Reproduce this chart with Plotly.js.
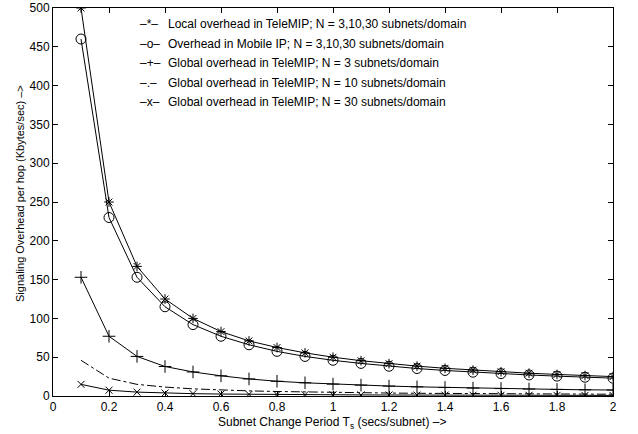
<!DOCTYPE html>
<html><head><meta charset="utf-8">
<script src="https://cdn.plot.ly/plotly-3.0.1.min.js"></script>
<style>html,body{margin:0;padding:0;background:#fff}#c{width:638px;height:434px}</style>
</head><body><div id="c"></div>
<script>
const period = [0.1,0.2,0.3,0.4,0.5,0.6,0.7,0.8,0.9,1.0,1.1,1.2,1.3,1.4,1.5,1.6,1.7,1.8,1.9,2.0];
const localTeleMIP = [500,250,167,125,100,83,71,62.5,55.6,50,45.5,41.7,38.5,35.7,33.3,31.3,29.4,27.8,26.3,25];
const mobileIP = [460,230,153,115,92,77,66,57.5,51,46,42,38.3,35.4,32.9,30.7,28.8,27.1,25.6,24.2,23];
const globalN3 = [153,77,51,38,31,26,22,19,17,15.3,14,12.8,11.8,11,10.2,9.6,9,8.5,8,7.7];
const globalN10 = [46,23,15,11.5,9.2,7.7,6.6,5.8,5.1,4.6,4.2,3.8,3.5,3.3,3.1,2.9,2.7,2.6,2.4,2.3];
const globalN30 = [15,7.5,5,3.8,3,2.5,2.1,1.9,1.7,1.5,1.4,1.3,1.2,1.1,1.0,0.9,0.9,0.8,0.8,0.75];
const legendSamples = ["–*–","–o–","–+–","–.–","–x–"];
const legendLabels = [
  "Local overhead in TeleMIP; N = 3,10,30 subnets/domain",
  "Overhead in Mobile IP; N = 3,10,30 subnets/domain",
  "Global overhead in TeleMIP; N = 3 subnets/domain",
  "Global overhead in TeleMIP; N = 10 subnets/domain",
  "Global overhead in TeleMIP; N = 30 subnets/domain"
];
const xTitle = 'Subnet Change Period T<sub>s</sub> (secs/subnet) –>';
const yTitle = 'Signaling Overhead per hop (Kbytes/sec) –>';
const xTicks = [0,0.2,0.4,0.6,0.8,1,1.2,1.4,1.6,1.8,2];
const yTicks = [0,50,100,150,200,250,300,350,400,450,500];

const FONT = 'Liberation Sans, Arial, Helvetica, sans-serif';
const line = {color:'#000', width:1};
const traces = [
  {x:period, y:localTeleMIP, mode:'lines+markers', line:line, marker:{symbol:'asterisk-open', size:8, color:'#000', line:{color:'#000', width:1}}},
  {x:period, y:mobileIP, mode:'lines+markers', line:line, marker:{symbol:'circle-open', size:10, color:'#000', line:{color:'#000', width:1}}},
  {x:period, y:globalN3, mode:'lines+markers', line:line, marker:{symbol:'cross-thin-open', size:9, color:'#000', line:{color:'#000', width:1}}},
  {x:period, y:globalN10, mode:'lines', line:{color:'#000', width:1, dash:'dashdot'}},
  {x:period, y:globalN30, mode:'lines+markers', line:line, marker:{symbol:'x-thin-open', size:7, color:'#000', line:{color:'#000', width:1}}}
];

const plotTop = 8, plotBottom = 396, plotLeft = 53, plotRight = 613;
const px2x = px => (px - plotLeft)/(plotRight - plotLeft);
const py2y = py => (plotBottom - py)/(plotBottom - plotTop);
const rowsPx = [24,44,63,83,102];
const annotations = [];
rowsPx.forEach((py,i)=>{
  annotations.push({xref:'paper', yref:'paper', x:px2x(138), y:py2y(py), xanchor:'left', yanchor:'middle', showarrow:false, text:legendSamples[i], font:{family:FONT, size:12, color:'#000'}});
  annotations.push({xref:'paper', yref:'paper', x:px2x(166), y:py2y(py), xanchor:'left', yanchor:'middle', showarrow:false, text:legendLabels[i], font:{family:FONT, size:12, color:'#000'}});
});
annotations.push({xref:'paper', yref:'paper', x:px2x(332), y:py2y(414), xanchor:'center', yanchor:'top', showarrow:false, text:xTitle, font:{family:FONT, size:12, color:'#000'}, borderpad:0});
annotations.push({xref:'paper', yref:'paper', x:px2x(20), y:py2y(194), xanchor:'center', yanchor:'middle', showarrow:false, textangle:-90, text:yTitle, font:{family:FONT, size:11, color:'#000'}});

const axisCommon = {showgrid:false, zeroline:false, showline:true, mirror:'ticks', linecolor:'#000', linewidth:1, ticks:'inside', ticklen:5, tickcolor:'#000', tickfont:{family:FONT, size:12, color:'#000'}};
const layout = {
  width:638, height:434, paper_bgcolor:'#fff', plot_bgcolor:'#fff', showlegend:false,
  margin:{l:plotLeft, r:638-plotRight, t:plotTop, b:434-plotBottom},
  xaxis:Object.assign({}, axisCommon, {range:[0,2], tickvals:xTicks, ticktext:xTicks.map(String)}),
  yaxis:Object.assign({}, axisCommon, {range:[0,500], tickvals:yTicks, ticktext:yTicks.map(String)}),
  annotations:annotations
};
Plotly.newPlot('c', traces, layout, {displayModeBar:false, staticPlot:true});
</script></body></html>
